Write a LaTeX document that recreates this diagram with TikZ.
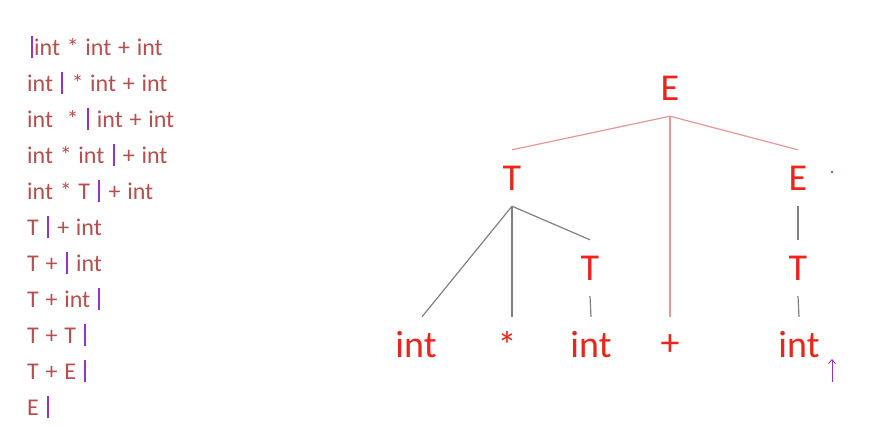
\documentclass[tikz,border=0pt]{standalone}
\usepackage{fontspec}
\setmainfont{Carlito}
\usetikzlibrary{arrows.meta}

\definecolor{rowred}{RGB}{185,78,78}
\definecolor{barpurple}{RGB}{150,50,200}
\definecolor{treered}{RGB}{236,36,26}
\definecolor{edgepink}{RGB}{232,150,150}
\definecolor{edgegray}{RGB}{128,128,128}

\newcommand{\pbar}{\hspace{1.5pt}{\color{barpurple}\rule[-0.14em]{2pt}{0.95em}}\hspace{1.5pt}}
\newcommand{\rowfont}{\fontsize{24}{24}\selectfont\spaceskip 0.28em plus 0.1em\relax}

\tikzset{
  row/.style={anchor=base west, inner sep=0pt, text=rowred, font=\rowfont},
  sym/.style={inner sep=0pt, minimum height=56pt, text=treered, font=\fontsize{38}{38}\selectfont},
  upper/.style={draw=edgepink, line width=1.2pt},
  lower/.style={draw=edgegray, line width=1.2pt}
}

\begin{document}
\begin{tikzpicture}[x=1pt,y=-1pt]
  \useasboundingbox (0,0) rectangle (884,426);

  % shift-reduce steps
  \node[row] (r1)  at (29,55)  {\pbar int * int + int};
  \node[row] (r2)  at (27,91)  {int \pbar{} * int + int};
  \node[row] (r3)  at (27,127) {int\ \ * \pbar{} int + int};
  \node[row] (r4)  at (27,163) {int * int \pbar{} + int};
  \node[row] (r5)  at (27,199) {int * T \pbar{} + int};
  \node[row] (r6)  at (27,235) {T \pbar{} + int};
  \node[row] (r7)  at (27,271) {T + \pbar{} int};
  \node[row] (r8)  at (27,307) {T + int \pbar};
  \node[row] (r9)  at (27,343) {T + T \pbar};
  \node[row] (r10) at (27,379) {T + E \pbar};
  \node[row] (r11) at (27,415) {E \pbar};

  % parse tree
  \node[sym] (eRoot)  at (670,88)  {E};
  \node[sym] (tLeft)  at (512,178) {T};
  \node[sym] (eRight) at (798,178) {E};
  \node[sym] (tMid)   at (590,268) {T};
  \node[sym] (tRight) at (798,268) {T};
  \node[sym] (int1)   at (416,345) {int};
  \node[sym] (star)   at (507,345) {*};
  \node[sym] (int2)   at (591,345) {int};
  \node[sym] (plus)   at (670,345) {+};
  \node[sym] (int3)   at (799,345) {int};

  \draw[upper] (eRoot.south) -- (tLeft.north);
  \draw[upper] (eRoot.south) -- (plus.north);
  \draw[upper] (eRoot.south) -- (eRight.north);

  \draw[lower] (tLeft.south) -- ([xshift=6pt]int1.north);
  \draw[lower] (tLeft.south) -- ([xshift=5pt]star.north);
  \draw[lower] (tLeft.south) -- (tMid.north);
  \draw[lower] (tMid.south) -- (int2.north);
  \draw[lower] (eRight.south) -- (tRight.north);
  \draw[lower] (tRight.south) -- (int3.north);

  % input pointer
  \coordinate (ptrFoot) at (832,382);
  \coordinate (ptrHead) at (832,359);
  \draw[barpurple, line width=0.9pt, -{Straight Barb[length=4pt,width=7pt]}] (ptrFoot) -- (ptrHead);

  \fill[rowred] (832,172) circle (1.3);
\end{tikzpicture}
\end{document}
